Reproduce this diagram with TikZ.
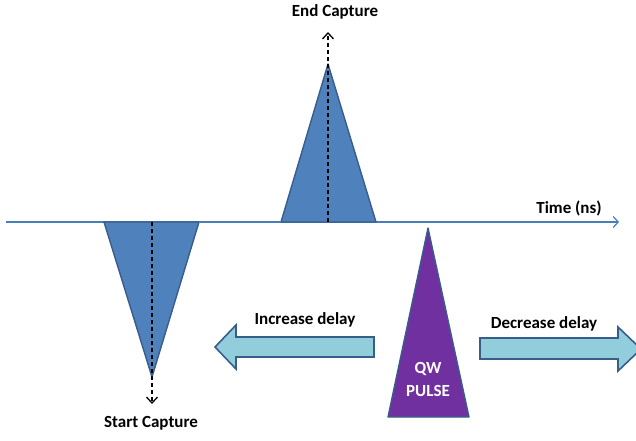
\documentclass[tikz,border=0pt]{standalone}
\usepackage{fontspec}
\setmainfont{Carlito}
\usetikzlibrary{arrows.meta}
\definecolor{pulseblue}{HTML}{4F81BD}
\definecolor{pulseedge}{HTML}{385D8A}
\definecolor{axisblue}{HTML}{4A7EBB}
\definecolor{delayfill}{HTML}{92CDDC}
\definecolor{qwpurple}{HTML}{7030A0}
\begin{document}
\begin{tikzpicture}
        [x=1pt, y=-1pt,
        label/.style={font=\bfseries\fontsize{17}{20}\selectfont, inner sep=0pt},
        pulse/.style={fill=pulseblue, draw=pulseedge, line width=1.4pt, line join=round},
        qw/.style={fill=qwpurple, draw=pulseedge, line width=1.4pt, line join=round},
        delay/.style={fill=delayfill, draw=pulseedge, line width=1.6pt, line join=miter},
        capture/.style={black, line width=1.3pt, dash pattern=on 4pt off 3pt, -{Straight Barb[length=6pt, width=11pt]}},
        axis/.style={axisblue, line width=1.2pt, -{Straight Barb[length=5pt, width=11pt]}}]

        \useasboundingbox (0,0) rectangle (636,440);

        % time axis
        \coordinate (t0) at (6,222);
        \coordinate (t1) at (619,222);
        \draw[axis] (t0) -- (t1);
        \node[label] (time) at (569,208) {Time (ns)};

        % start and end capture pulses
        \coordinate (s) at (152,377);
        \coordinate (sb) at (152,222);
        \coordinate (se) at (152,404);
        \coordinate (e) at (328,64);
        \coordinate (eb) at (328,222);
        \coordinate (ee) at (328,32);
        \draw[pulse] (104,222) -- (199,222) -- (s) -- cycle;
        \draw[pulse] (281,222) -- (376,222) -- (e) -- cycle;
        \draw[axisblue, line width=2pt] (199,222) -- (281,222);

        \draw[capture] (sb) -- (se);
        \draw[capture] (eb) -- (ee);
        \node[label] (start) at (151,423) {Start Capture};
        \node[label] (end) at (335,12) {End Capture};

        % QW pulse
        \draw[qw] (428,228) -- (469,417) -- (388,417) -- cycle;
        \node[label, white, align=center] (qw) at (428,379) {QW\\[3pt]PULSE};

        % delay arrows
        \draw[delay] (374,337) -- (236,337) -- (236,325) -- (215,347)
              -- (236,369) -- (236,357) -- (374,357) -- cycle;
        \draw[delay] (480,338) -- (618,338) -- (618,327) -- (641,349)
              -- (618,371) -- (618,359) -- (480,359) -- cycle;
        \node[label] (inc) at (305,320) {Increase delay};
        \node[label] (dec) at (544,324) {Decrease delay};

        \end{tikzpicture}
\end{document}
